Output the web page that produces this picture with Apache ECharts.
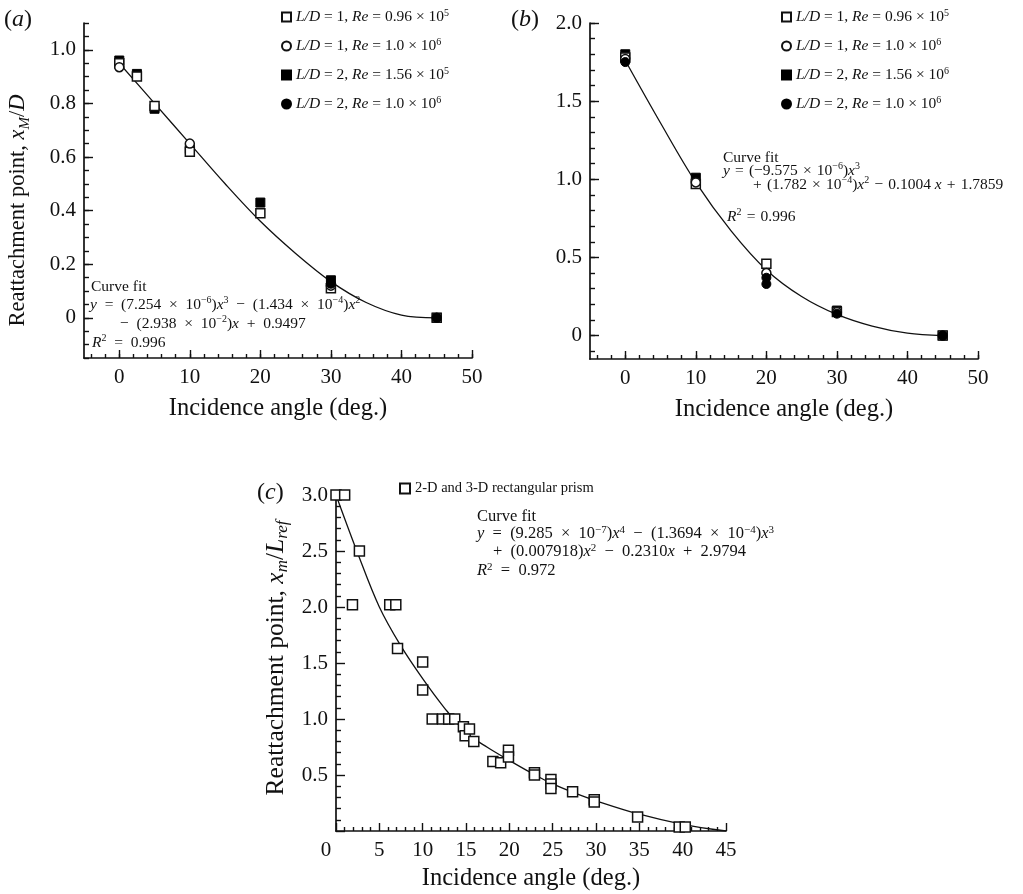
<!DOCTYPE html>
<html>
<head>
<meta charset="utf-8">
<title>Reattachment point vs incidence angle</title>
<script src="https://cdn.jsdelivr.net/npm/echarts@6/dist/echarts.min.js"></script>
<style>
  html, body { margin: 0; padding: 0; background: #fff; }
  #chart { width: 1023px; height: 894px; }
</style>
</head>
<body>
<div id="chart"></div>
<script>
// ---- panel (a): x_M / D ----
const aOpenSqX = [0, 2.5, 5, 10, 20, 30, 45]
const aOpenSqY = [0.95, 0.90, 0.79, 0.62, 0.39, 0.11, 0]
const aOpenCircX = [0, 10, 30, 45]
const aOpenCircY = [0.935, 0.65, 0.12, 0]
const aFillSqX = [0, 2.5, 5, 10, 20, 30, 45]
const aFillSqY = [0.96, 0.91, 0.78, 0.63, 0.43, 0.14, 0]
const aFillCircX = [30, 45]
const aFillCircY = [0.127, 0]
const aFitX = [0, 5, 10, 15, 20, 25, 30, 35, 40, 45]
const aFitY = [0.95, 0.80, 0.65, 0.50, 0.36, 0.24, 0.135, 0.057, 0.01, 0]
const aXTicks = [0, 10, 20, 30, 40, 50]
const aYTicks = [0, 0.2, 0.4, 0.6, 0.8, 1.0]

// ---- panel (b) ----
const bOpenSqX = [0, 10, 20, 30, 45]
const bOpenSqY = [1.78, 0.97, 0.46, 0.15, 0]
const bOpenCircX = [0, 10, 20, 30, 45]
const bOpenCircY = [1.77, 0.98, 0.40, 0.15, 0]
const bFillSqX = [0, 10, 30, 45]
const bFillSqY = [1.80, 1.01, 0.16, 0]
const bFillCircX = [0, 20, 20, 30, 45]
const bFillCircY = [1.75, 0.37, 0.33, 0.14, 0]
const bFitX = [0, 5, 10, 15, 20, 25, 30, 35, 40, 45]
const bFitY = [1.76, 1.36, 0.98, 0.67, 0.42, 0.25, 0.135, 0.06, 0.015, 0]
const bXTicks = [0, 10, 20, 30, 40, 50]
const bYTicks = [0, 0.5, 1.0, 1.5, 2.0]

// ---- panel (c): x_m / L_ref ----
const cPtX = [0, 1.0, 1.9, 2.7, 6.2, 6.9, 7.1, 10, 10, 11.1, 12.3, 13.0, 13.7, 14.7, 14.9, 15.4, 15.9,
  18.1, 19.0, 19.9, 19.9, 22.9, 22.9, 24.8, 24.8, 24.8, 27.3, 29.8, 29.8, 34.8, 39.6, 40.3]
const cPtY = [3.0, 3.0, 2.02, 2.5, 2.02, 2.02, 1.63, 1.51, 1.26, 1.0, 1.0, 1.0, 1.0, 0.93, 0.85, 0.91, 0.80,
  0.62, 0.61, 0.72, 0.66, 0.52, 0.50, 0.46, 0.42, 0.38, 0.35, 0.28, 0.26, 0.125, 0.035, 0.035]
const cFitX = [0, 2.5, 5, 7.5, 10, 12.5, 15, 17.5, 20, 22.5, 25, 27.5, 30, 35, 40, 45]
const cFitY = [3.0, 2.48, 2.0, 1.65, 1.36, 1.10, 0.88, 0.745, 0.63, 0.52, 0.42, 0.34, 0.27, 0.15, 0.06, 0]

const nOpenSq = 'L/D = 1, Re = 0.96 × 10^5'
const nOpenCirc = 'L/D = 1, Re = 1.0 × 10^6'
const nFillSqA = 'L/D = 2, Re = 1.56 × 10^5'
const nFillSqB = 'L/D = 2, Re = 1.56 × 10^6'
const nFillCirc = 'L/D = 2, Re = 1.0 × 10^6'
const nPrism = '2-D and 3-D rectangular prism'

const SERIF = '"Liberation Serif", "DejaVu Serif", serif'
const INK = '#111'
const EN = '\u2002' // wider space round operators, as in the typeset equations
const TP = '\u2004'

function pairs(xs, ys) {
  return xs.map((x, i) => [x, ys[i]])
}

// tick positions for the short ticks
function steps(from, to, step) {
  const out = []
  for (let v = from; v <= to + 1e-9; v += step) out.push(Math.round(v * 1000) / 1000)
  return out
}

const tickLine = { color: INK, width: 1.4 }

function valueAxis(o) {
  return Object.assign({
    type: 'value',
    splitLine: { show: false },
    axisLine: { show: true, onZero: false, lineStyle: { color: INK, width: 1.7 } },
    axisLabel: { show: false },
    axisTick: { show: false },
    nameMoveOverlap: false
  }, o)
}

const labelStyle = { fontFamily: SERIF, fontSize: 21, color: INK }
function nameStyle(size) {
  return { fontFamily: SERIF, fontSize: size, color: INK }
}
function nameRich(size) {
  return {
    i: { fontFamily: SERIF, fontSize: size, fontStyle: 'italic', color: INK, lineHeight: 30 },
    sub: { fontFamily: SERIF, fontSize: Math.round(size * 0.65), fontStyle: 'italic', color: INK,
      lineHeight: Math.round(size * 0.65), verticalAlign: 'bottom' }
  }
}
const fmtTick = v => (v === 0 ? '0' : v.toFixed(1))

function xMajor(grid, min, max, ticks) {
  return valueAxis({
    gridIndex: grid, position: 'bottom', min, max,
    axisTick: { show: true, inside: true, length: 8, customValues: ticks, lineStyle: tickLine },
    axisLabel: Object.assign({ show: true, customValues: ticks, margin: 9 }, labelStyle),
    name: 'Incidence angle (deg.)', nameLocation: 'middle', nameGap: 38, nameTextStyle: nameStyle(24.5)
  })
}
function xMinor(grid, min, max, ticks) {
  return valueAxis({
    gridIndex: grid, position: 'bottom', min, max,
    axisLine: { show: false, onZero: false },
    axisTick: { show: true, inside: true, length: 4, customValues: ticks, lineStyle: tickLine }
  })
}
function yMajor(grid, min, max, ticks, extra) {
  return valueAxis(Object.assign({
    gridIndex: grid, position: 'left', min, max,
    axisTick: { show: true, inside: true, length: 9, customValues: ticks, lineStyle: tickLine },
    axisLabel: Object.assign({ show: true, customValues: ticks, margin: 8, formatter: fmtTick }, labelStyle)
  }, extra))
}
function yMinor(grid, min, max, ticks) {
  return valueAxis({
    gridIndex: grid, position: 'left', min, max,
    axisLine: { show: false, onZero: false },
    axisTick: { show: true, inside: true, length: 5, customValues: ticks, lineStyle: tickLine }
  })
}

const openStyle = { color: '#fff', borderColor: INK, borderWidth: 1.5, opacity: 1 }
const fillStyle = { color: '#000', borderColor: '#000', borderWidth: 1, opacity: 1 }

function pts(name, ax, xs, ys, symbol, style, size) {
  return {
    name, type: 'scatter', xAxisIndex: ax, yAxisIndex: ax,
    data: pairs(xs, ys), symbol, symbolSize: size || 9, itemStyle: style,
    emphasis: { disabled: true }
  }
}
function fit(ax, xs, ys) {
  return {
    type: 'line', xAxisIndex: ax, yAxisIndex: ax, data: pairs(xs, ys),
    smooth: 0.35, symbol: 'none', silent: true, z: 1,
    lineStyle: { color: INK, width: 1.3 }
  }
}

function legendRich(name) {
  const m = name.match(/^L\/D = (\d), Re = ([\d.]+) × 10\^(\d)$/)
  if (!m) return name
  return '{i|L/D} = ' + m[1] + ', {i|Re} = ' + m[2] + ' × 10{s|' + m[3] + '}'
}
const legendText = {
  fontFamily: SERIF, fontSize: 15.5, color: INK, lineHeight: 18,
  rich: {
    i: { fontFamily: SERIF, fontSize: 15.5, fontStyle: 'italic', color: INK, lineHeight: 18 },
    s: { fontFamily: SERIF, fontSize: 10, color: INK, lineHeight: 10, verticalAlign: 'top' }
  }
}
function legendAt(left, top, names) {
  return {
    data: names, left, top, orient: 'vertical', padding: 0,
    itemWidth: 9, itemHeight: 9, itemGap: 11, itemTextGap: 8,
    textStyle: legendText, formatter: legendRich, selectedMode: false
  }
}

// text pieces drawn with graphic elements
function eqRich(size) {
  return {
    i: { font: 'italic ' + size + 'px ' + SERIF, fill: INK },
    s: { font: Math.round(size * 0.66) + 'px ' + SERIF, fill: INK, lineHeight: 10, verticalAlign: 'top' }
  }
}
function txt(x, y, text, size) {
  return {
    type: 'text', x, y, silent: true,
    style: {
      text, font: size + 'px ' + SERIF, fill: INK, lineHeight: size + 3,
      textVerticalAlign: 'middle', verticalAlign: 'middle', rich: eqRich(size)
    }
  }
}
// put wider spaces round the binary operators
function op(s, sp) {
  return s.replace(/ ([=×−+]) /g, sp + '$1' + sp).replace(/^([−+]) /, '$1' + sp)
}

const chart = echarts.init(document.getElementById('chart'))

chart.setOption({
  backgroundColor: '#fff',
  animation: false,
  grid: [
    { left: 84, top: 23, width: 388, height: 335, outerBoundsMode: 'none' },
    { left: 590, top: 23, width: 388, height: 336, outerBoundsMode: 'none' },
    { left: 336, top: 495, width: 390, height: 336, outerBoundsMode: 'none' }
  ],
  xAxis: [
    xMajor(0, -5, 50, aXTicks),
    xMinor(0, -5, 50, steps(-4, 50, 2)),
    xMajor(1, -5, 50, bXTicks),
    xMinor(1, -5, 50, steps(-4, 50, 2)),
    valueAxis({
      gridIndex: 2, position: 'bottom', min: 0, max: 45, interval: 5,
      axisTick: { show: true, inside: true, length: 8, lineStyle: tickLine },
      minorTick: { show: true, splitNumber: 5, length: 4, lineStyle: tickLine },
      axisLabel: Object.assign({
        show: true, margin: 9,
        formatter: v => (v === 0 ? '{z|0}' : String(v)),
        rich: { z: { fontFamily: SERIF, fontSize: 21, color: INK, padding: [0, 20, 0, 0] } }
      }, labelStyle),
      name: 'Incidence angle (deg.)', nameLocation: 'middle', nameGap: 35, nameTextStyle: nameStyle(24.5)
    })
  ],
  yAxis: [
    yMajor(0, -0.15, 1.1, aYTicks, {
      name: 'Reattachment point, {i|x}{sub|M}/{i|D}', nameLocation: 'middle', nameGap: 51, nameRotate: 90,
      nameTextStyle: Object.assign({ lineHeight: 30, rich: nameRich(22.5), padding: [0, 40, 0, 0] }, nameStyle(22.5))
    }),
    yMinor(0, -0.15, 1.1, steps(-0.15, 1.1, 0.05)),
    yMajor(1, -0.15, 2.0, bYTicks),
    yMinor(1, -0.15, 2.0, steps(-0.1, 2.0, 0.1)),
    valueAxis({
      gridIndex: 2, position: 'left', min: 0, max: 3, interval: 0.5,
      axisTick: { show: true, inside: true, length: 9, lineStyle: tickLine },
      minorTick: { show: true, splitNumber: 5, length: 5, lineStyle: tickLine },
      axisLabel: Object.assign({ show: true, margin: 8, formatter: v => (v === 0 ? '' : v.toFixed(1)) }, labelStyle),
      name: 'Reattachment point, {i|x}{sub|m}/{i|L}{sub|ref}', nameLocation: 'middle', nameGap: 45, nameRotate: 90,
      nameTextStyle: Object.assign({ lineHeight: 30, rich: nameRich(25.5), padding: [0, 0, 0, 10] }, nameStyle(25.5))
    })
  ],
  legend: [
    legendAt(281, 8, [nOpenSq, nOpenCirc, nFillSqA, nFillCirc]),
    legendAt(781, 8, [nOpenSq, nOpenCirc, nFillSqB, nFillCirc]),
    Object.assign(legendAt(399, 481, [nPrism]), {
      itemWidth: 10, itemHeight: 10, textStyle: { fontFamily: SERIF, fontSize: 14.5, color: INK }
    })
  ],
  graphic: [
    txt(4, 20, '({i|a})', 24),
    txt(511, 20, '({i|b})', 24),
    txt(257, 493, '({i|c})', 24),

    txt(91, 287, 'Curve fit', 15.5),
    txt(90, 305, op('{i|y} = (7.254 × 10{s|−6}){i|x}{s|3} − (1.434 × 10{s|−4}){i|x}{s|2}', EN), 15.5),
    txt(120, 324, op('− (2.938 × 10{s|−2}){i|x} + 0.9497', EN), 15.5),
    txt(92, 343, op('{i|R}{s|2} = 0.996', EN), 15.5),

    txt(723, 158, 'Curve fit', 15.5),
    txt(723, 171, op('{i|y} = (−9.575 × 10{s|−6}){i|x}{s|3}', TP), 15.5),
    txt(753, 185, op('+ (1.782 × 10{s|−4}){i|x}{s|2} − 0.1004 {i|x} + 1.7859', TP), 15.5),
    txt(727, 217, op('{i|R}{s|2} = 0.996', TP), 15.5),

    txt(477, 517, 'Curve fit', 16.5),
    txt(477, 534, op('{i|y} = (9.285 × 10{s|−7}){i|x}{s|4} − (1.3694 × 10{s|−4}){i|x}{s|3}', EN), 16.5),
    txt(493, 552, op('+ (0.007918){i|x}{s|2} − 0.2310{i|x} + 2.9794', EN), 16.5),
    txt(477, 571, op('{i|R}{s|2} = 0.972', EN), 16.5)
  ],
  series: [
    fit(0, aFitX, aFitY),
    pts(nFillSqA, 0, aFillSqX, aFillSqY, 'rect', fillStyle),
    pts(nOpenSq, 0, aOpenSqX, aOpenSqY, 'rect', openStyle),
    pts(nOpenCirc, 0, aOpenCircX, aOpenCircY, 'circle', openStyle),
    pts(nFillCirc, 0, aFillCircX, aFillCircY, 'circle', fillStyle),

    fit(2, bFitX, bFitY),
    pts(nFillSqB, 2, bFillSqX, bFillSqY, 'rect', fillStyle),
    pts(nOpenSq, 2, bOpenSqX, bOpenSqY, 'rect', openStyle),
    pts(nOpenCirc, 2, bOpenCircX, bOpenCircY, 'circle', openStyle),
    pts(nFillCirc, 2, bFillCircX, bFillCircY, 'circle', fillStyle),

    fit(4, cFitX, cFitY),
    pts(nPrism, 4, cPtX, cPtY, 'rect', openStyle, 10)
  ]
})

window.addEventListener('resize', () => chart.resize())
</script>
</body>
</html>
